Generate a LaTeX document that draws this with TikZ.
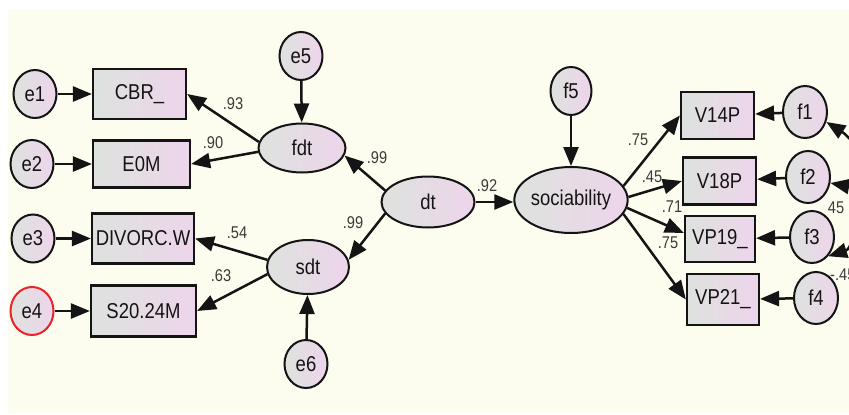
\documentclass[tikz,border=0pt]{standalone}
\usepackage{fontspec}
\setmainfont{Liberation Sans}[FakeStretch=0.86]
\usetikzlibrary{shapes.geometric,arrows.meta}

\definecolor{paper}{HTML}{FCFDEF}
\definecolor{fillL}{HTML}{DEE2DE}
\definecolor{fillR}{HTML}{EDD5EB}
\definecolor{coefgray}{HTML}{3A3A3A}
\definecolor{ink}{HTML}{141414}
\definecolor{redring}{HTML}{E8232A}

\tikzset{
  grad/.style={left color=fillL, right color=fillR},
  obs/.style={rectangle, draw=ink, line width=2.2pt, grad, text=ink,
    font=\fontsize{21.5}{24}\selectfont, inner sep=0pt},
  lat/.style={ellipse, draw=ink, line width=2pt, grad, text=ink,
    font=\fontsize{21.5}{24}\selectfont, inner sep=0pt},
  err/.style={lat, minimum width=43pt, minimum height=48pt},
  tip/.tip={Triangle[length=19pt,width=15pt]},
  reg/.style={draw=ink, line width=2.5pt, -tip},
  cov/.style={draw=ink, line width=2.5pt, tip-tip},
  covone/.style={draw=ink, line width=2.5pt, tip-},
  coef/.style={text=coefgray, font=\fontsize{17}{19}\selectfont, inner sep=0pt},
}

\begin{document}
\begin{tikzpicture}[x=1pt,y=-1pt]
\useasboundingbox (0,0) rectangle (849,415);
\fill[white] (0,0) rectangle (849,415);
\fill[paper] (8,9) rectangle (849,413);

\begin{scope}
\clip (0,0) rectangle (849,415);

% error terms of the indicators
\node[err] (e1) at (35,94) {e1};
\node[err] (e2) at (32,164) {e2};
\node[err] (e3) at (33,238.5) {e3};
\node[err, draw=redring] (e4) at (32,311) {e4};

% observed indicators, left block
\node[obs, minimum width=93pt, minimum height=50pt] (cbr) at (139.5,94) {CBR\_};
\node[obs, minimum width=97pt, minimum height=47pt] (eom) at (141.5,164) {E0M};
\node[obs, minimum width=102pt, minimum height=50pt] (divorc) at (143,238.5) {DIVORC.W};
\node[obs, minimum width=105pt, minimum height=51pt] (s20) at (143.5,311) {S20.24M};

% first-order factors and their disturbances
\node[err] (e5) at (301,56) {e5};
\node[lat, minimum width=87pt, minimum height=49pt] (fdt) at (302,148) {fdt};
\node[lat, minimum width=82pt, minimum height=54pt] (sdt) at (308,267) {sdt};
\node[err] (e6) at (306,364) {e6};

% second-order factor
\node[lat, minimum width=93pt, minimum height=51pt] (dt) at (428,202) {dt};

% outcome factor
\node[err, minimum width=41pt] (f5) at (571,91) {f5};
\node[lat, minimum width=105pt, minimum height=66pt] (soc) at (571,200) {sociability};

% observed indicators, right block
\node[obs, minimum width=73pt, minimum height=47pt] (v14) at (717.5,115.5) {V14P};
\node[obs, minimum width=73pt, minimum height=47pt] (v18) at (719.5,181) {V18P};
\node[obs, minimum width=70pt, minimum height=46pt] (v19) at (720,239) {VP19\_};
\node[obs, minimum width=72pt, minimum height=51pt] (v21) at (723,299.5) {VP21\_};

\node[err, minimum width=44pt, minimum height=52pt] (f1) at (805,112) {f1};
\node[err, minimum width=44pt, minimum height=52pt] (f2) at (808,177) {f2};
\node[err, minimum width=44pt, minimum height=52pt] (f3) at (812,237) {f3};
\node[err, minimum width=44pt, minimum height=52pt] (f4) at (816,298) {f4};

% errors into indicators
\draw[reg] (e1) -- (cbr);
\draw[reg] (e2) -- (eom);
\draw[reg] (e3) -- (divorc);
\draw[reg] (e4) -- (s20);
\draw[reg] (e5) -- (fdt);
\draw[reg] (e6) -- (sdt);
\draw[reg] (f5) -- (soc);
\draw[reg] (f1) -- (v14);
\draw[reg] (f2) -- (v18);
\draw[reg] (f3) -- (v19);
\draw[reg] (f4) -- (v21);

% loadings
\draw[reg] (fdt.172) -- (cbr.east);
\draw[reg] (fdt.185) -- (eom.east);
\draw[reg] (sdt.170) -- (divorc.east);
\draw[reg] (sdt.190) -- (s20.east);
\draw[reg] (dt.165) -- (fdt.-10);
\draw[reg] (dt.195) -- (sdt.10);
\draw[reg] (dt.east) -- (soc.west |- dt.east);
\draw[reg] (soc.15) -- (v14.west);
\draw[reg] (soc.3) -- (v18.west);
\draw[reg] (soc.-8) -- ([yshift=6pt]v19.west);
\draw[reg] (soc.-15) -- (v21.west);

% residual covariances
\coordinate (covfar) at (905,300);
\draw[cov] (f2.-15) .. controls (857,188) and (857,247) .. (f3.-50);
\draw[covone] (f1.-25) .. controls (855,140) and (900,200) .. (covfar);

% coefficients
\node[coef] at (233,104) {.93};
\node[coef] at (213,143) {.90};
\node[coef] at (237,233) {.54};
\node[coef] at (221,276) {.63};
\node[coef] at (377,158) {.99};
\node[coef] at (353,223) {.99};
\node[coef] at (487,186) {.92};
\node[coef] at (638,140) {.75};
\node[coef] at (652,177) {.45};
\node[coef] at (672,207) {.71};
\node[coef] at (668,243) {.75};
\node[coef] at (836,208) {45};
\node[coef, anchor=west] at (830,275) {-.45};
\end{scope}
\end{tikzpicture}
\end{document}
